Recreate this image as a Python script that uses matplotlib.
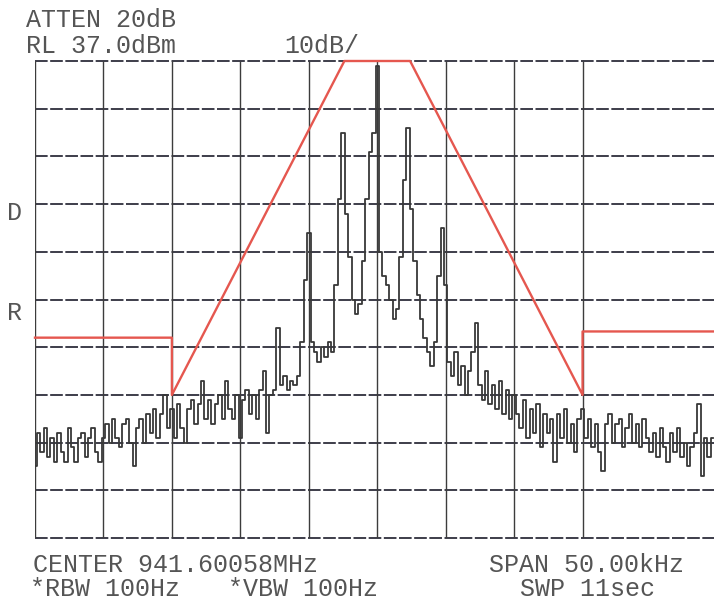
import numpy as np
import matplotlib
matplotlib.use("Agg")
import matplotlib.pyplot as plt

# --- valores (offset de frequencia em kHz, nivel em dBm) ---
ref_level = 37.0          # RL 37.0 dBm, topo da grade
db_per_div = 10
span_khz = 50.0

trace_dbm = [
    -48, -41, -45, -40, -46, -42, -47, -41, -45, -47,
    -40, -44, -47, -42, -41, -46, -42, -40, -45, -47,
    -42, -39, -43, -38, -42, -44, -39, -38, -43, -48,
    -40, -38, -43, -37, -41, -36, -42, -37, -33, -40,
    -36, -42, -35, -40, -43, -36, -34, -39, -35, -30,
    -38, -34, -39, -35, -33, -38, -30, -36, -38, -33,
    -42, -34, -32, -37, -33, -38, -32, -28, -41, -33,
    -32, -19, -31, -29, -32, -30, -31, -29, -22, -9,
    1, -22, -24, -26, -23, -25, -22, -24, -10, 8,
    22, 5, -4, -13, -16, -14, -5, 8, 18, 22,
    36, -3, -8, -10, -13, -17, -15, -4, 12, 23,
    6, -5, -12, -17, -21, -24, -27, -22, -8, 2,
    -10, -26, -29, -24, -31, -27, -33, -28, -24, -18,
    -31, -34, -28, -35, -31, -36, -30, -37, -32, -38,
    -33, -37, -40, -34, -42, -36, -41, -35, -44, -37,
    -41, -38, -47, -37, -42, -36, -43, -39, -45, -38,
    -36, -42, -38, -44, -39, -45, -49, -39, -37, -43,
    -39, -38, -44, -40, -37, -43, -39, -44, -38, -42,
    -45, -41, -46, -40, -44, -47, -41, -45, -40, -46,
    -43, -48, -44, -41, -35, -50, -42, -46, -42,
]

# mascara (linha vermelha)
mask_khz = [-25, -15, -15, -2.4, 2.4, 15, 15, 24.6]
mask_dbm = [-21, -21, -33, 37, 37, -33, -19.7, -19.7]

grid_khz = [-25, -20, -15, -10, -5, 0, 5, 10, 15]
grid_dbm = [37, 27, 17, 7, -3, -13, -23, -33, -43, -53, -63]

W, H = 714, 606


def px(x, y):
    # pixel da imagem -> fracao da figura
    return x / W, 1 - y / H


def gerar_grafico():
    fig = plt.figure(figsize=(W / 100, H / 100), dpi=100)
    fig.patch.set_facecolor("white")

    x0, y0 = px(35, 538)
    x1, y1 = px(714, 61)
    ax = fig.add_axes([x0, y0, x1 - x0, y1 - y0])
    ax.set_xlim(-25, 24.6)
    ax.set_ylim(ref_level - 10 * db_per_div, ref_level)
    ax.axis("off")

    # grade: horizontais tracejadas, verticais continuas
    for lvl in grid_dbm:
        ax.axhline(lvl, color="#2e2e3c", lw=1.3, dashes=(7, 1.4), clip_on=False, zorder=1)
    ax.vlines(grid_khz, grid_dbm[-1], grid_dbm[0], color="#3c3c3c", lw=1.0, zorder=1)

    # traco do analisador
    freqs = np.linspace(-25, 24.5, len(trace_dbm))
    ax.plot(freqs, trace_dbm, color="#383838", lw=1.3, drawstyle="steps-mid", zorder=2)

    # mascara
    ax.plot(mask_khz, mask_dbm, color="#e5574f", lw=1.7, clip_on=False, zorder=3)

    # textos
    fnt = dict(family="Liberation Mono", color="#555555", fontsize=18, va="baseline")
    fig.text(*px(26, 27), "ATTEN 20dB", **fnt)
    fig.text(*px(26, 53), "RL 37.0dBm", **fnt)
    fig.text(*px(284, 53), "10dB/", **fnt)
    fig.text(*px(7, 220), "D", **fnt)
    fig.text(*px(7, 320), "R", **fnt)
    fig.text(*px(33, 572), "CENTER 941.60058MHz", **fnt)
    fig.text(*px(489, 572), "SPAN 50.00kHz", **fnt)
    fig.text(*px(30, 596), "*RBW 100Hz", **fnt)
    fig.text(*px(228, 596), "*VBW 100Hz", **fnt)
    fig.text(*px(520, 596), "SWP 11sec", **fnt)

    fig.savefig("out.png", dpi=100)


if __name__ == "__main__":
    gerar_grafico()
